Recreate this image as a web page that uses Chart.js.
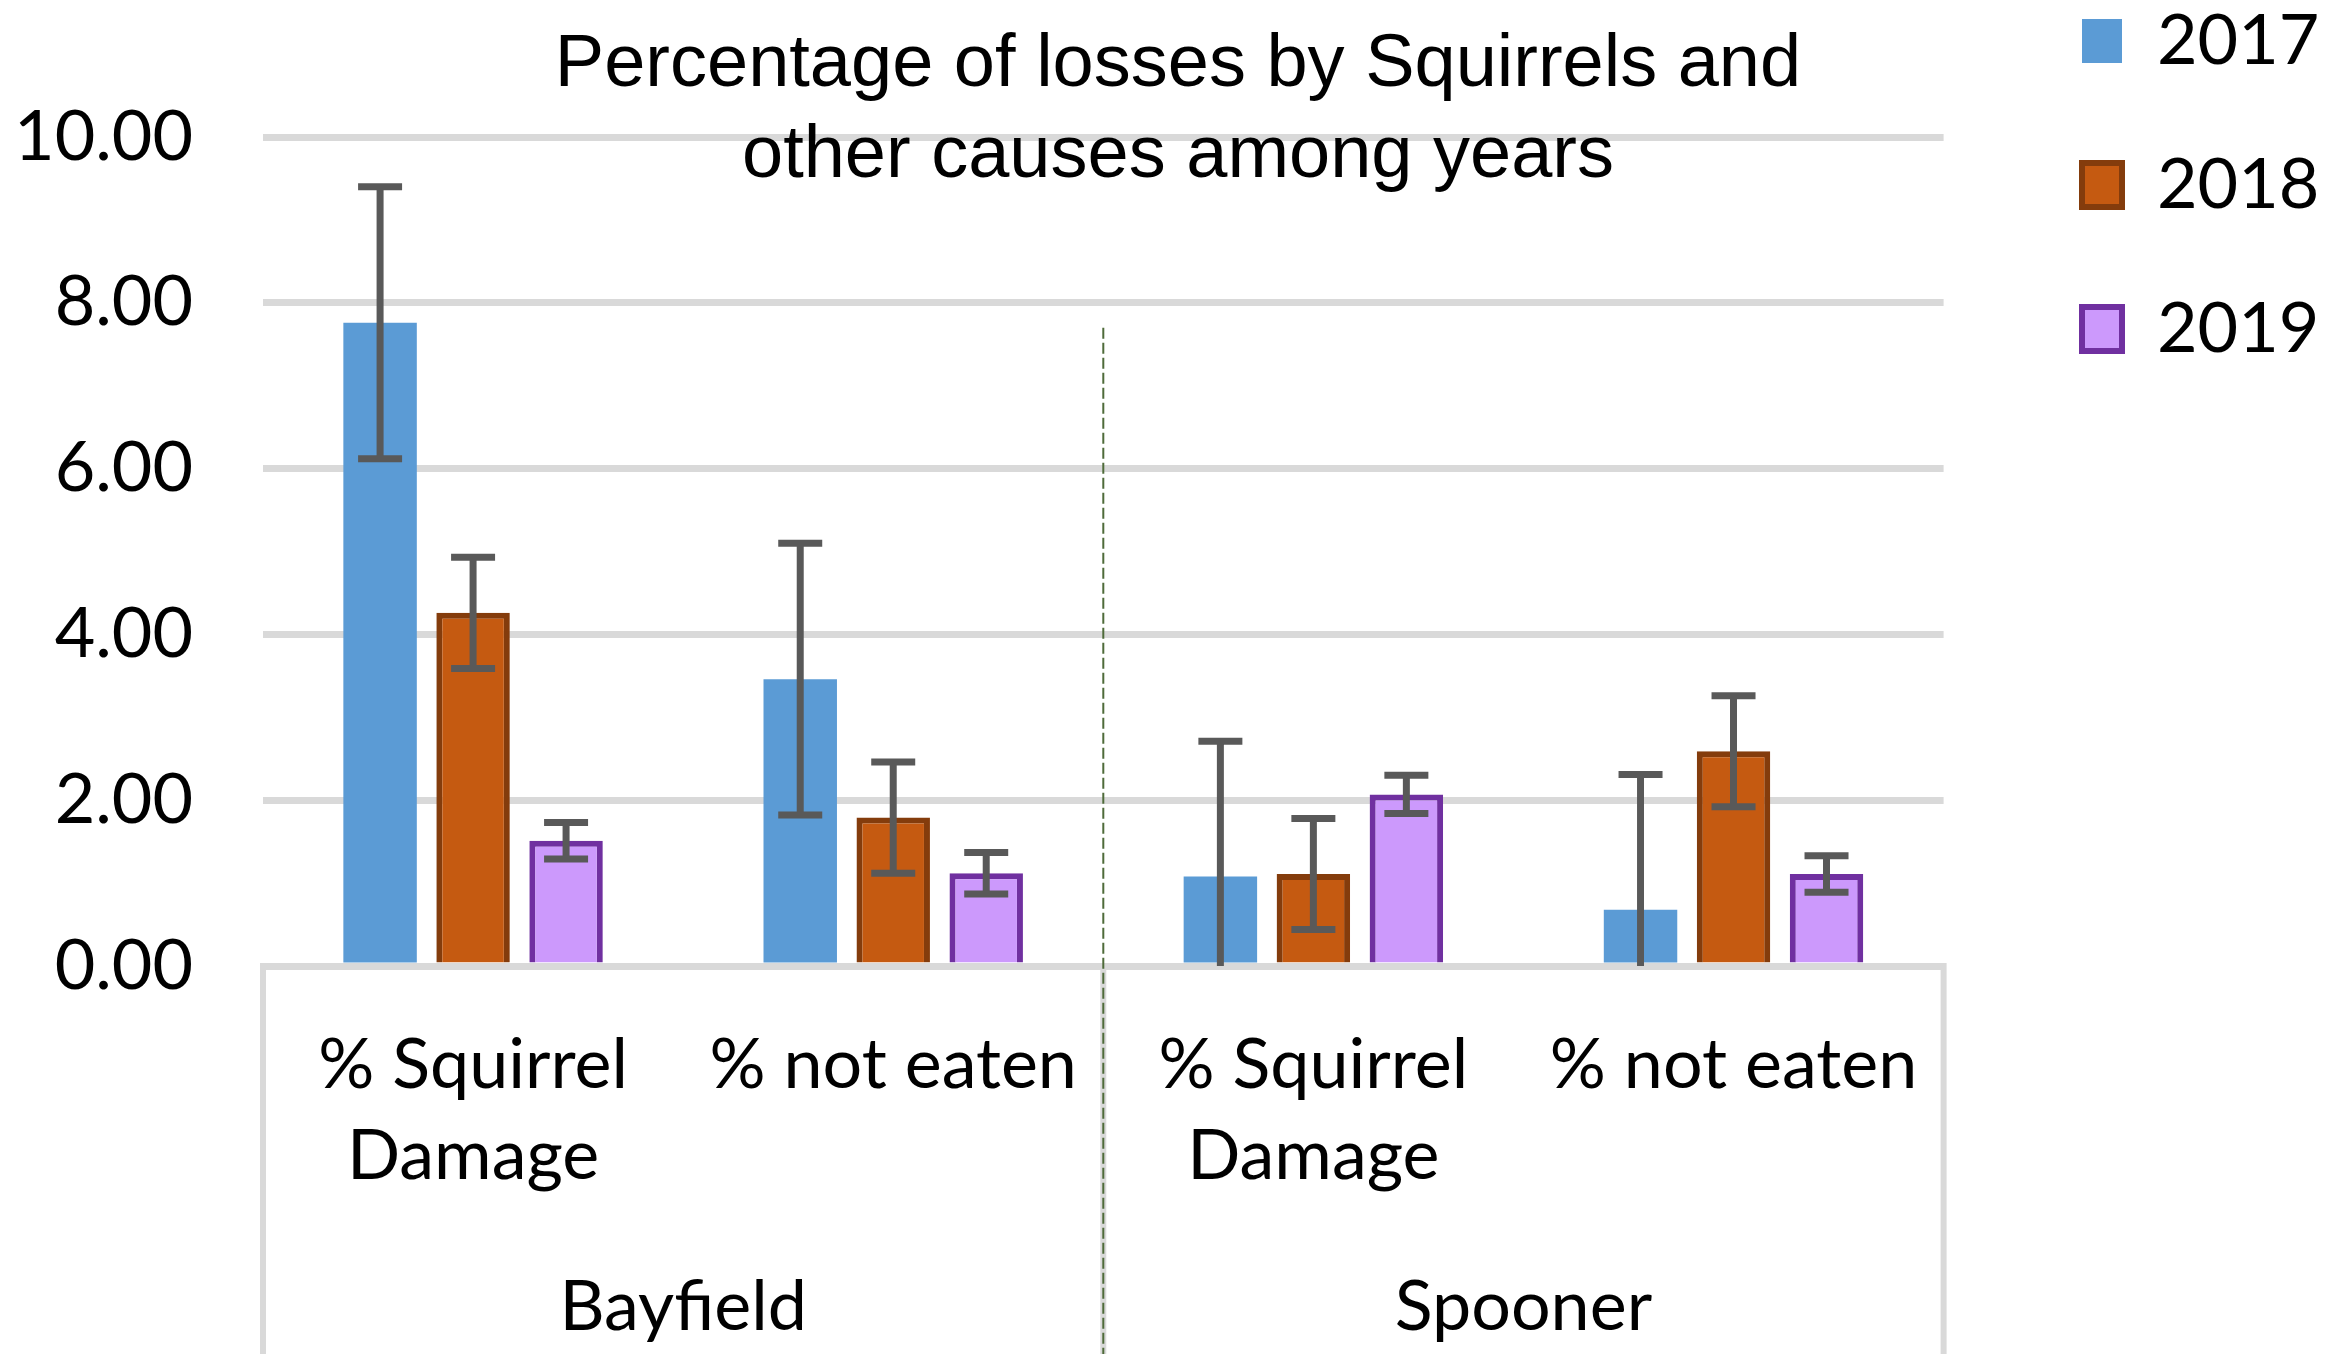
<!DOCTYPE html>
<html lang="en">
<head>
<meta charset="UTF-8">
<title>Percentage of losses by Squirrels and other causes among years</title>
<script src="https://cdn.jsdelivr.net/npm/chart.js"></script>
<style>
  html, body { margin: 0; padding: 0; background: #ffffff; }
  #wrap { width: 2331px; height: 1354px; }
</style>
</head>
<body>
<div id="wrap"><canvas id="lossChart" width="2331" height="1354"></canvas></div>
<script>
// categories (inner level) and sites (outer level) of the x axis
const categories = [['% Squirrel', 'Damage'], '% not eaten', ['% Squirrel', 'Damage'], '% not eaten'];
const sites = ['Bayfield', 'Spooner'];
const years = ['2017', '2018', '2019'];
const yTicks = [0, 2, 4, 6, 8, 10];
const titleLines = ['Percentage of losses by Squirrels and', 'other causes among years'];

// bar heights (%)
const losses2017 = [7.76, 3.46, 1.08, 0.68];
const losses2018 = [4.26, 1.79, 1.11, 2.59];
const losses2019 = [1.51, 1.12, 2.07, 1.11];

// error bar half-lengths (%)
const err2017 = [1.64, 1.64, 1.63, 1.63];
const err2018 = [0.67, 0.67, 0.67, 0.67];
const err2019 = [0.22, 0.25, 0.23, 0.22];
const errorSets = [err2017, err2018, err2019];

const axisFont = { family: 'Lato', size: 70, lineHeight: 1.3 };

// error bars drawn from each bar's own position and the y scale
const errorBars = {
    id: 'errorBars',
    afterDatasetsDraw(chart) {
        const ctx = chart.ctx;
        const y = chart.scales.y;
        const area = chart.chartArea;
        ctx.save();
        ctx.beginPath();
        ctx.rect(area.left, area.top - 10, area.right - area.left, area.bottom - area.top + 10);
        ctx.clip();
        ctx.strokeStyle = '#595959';
        ctx.lineWidth = 7;
        chart.data.datasets.forEach((ds, i) => {
            chart.getDatasetMeta(i).data.forEach((bar, j) => {
                const v = ds.data[j];
                const e = errorSets[i][j];
                const top = y.getPixelForValue(v + e);
                const low = v - e;
                const bot = y.getPixelForValue(Math.max(low, y.min));
                ctx.beginPath();
                ctx.moveTo(bar.x, top);
                ctx.lineTo(bar.x, bot);
                ctx.moveTo(bar.x - 22, top);
                ctx.lineTo(bar.x + 22, top);
                if (low >= y.min) {
                    ctx.moveTo(bar.x - 22, bot);
                    ctx.lineTo(bar.x + 22, bot);
                }
                ctx.stroke();
            });
        });
        ctx.restore();
    }
};

// axis box lines, group separator and the title laid over the plot
const decorations = {
    id: 'decorations',
    afterDraw(chart) {
        const ctx = chart.ctx;
        const area = chart.chartArea;
        const xs = chart.scales.x;
        const mid = (xs.getPixelForValue(1) + xs.getPixelForValue(2)) / 2;
        ctx.save();
        ctx.strokeStyle = '#d9d9d9';
        ctx.lineWidth = 6;
        ctx.beginPath();
        [area.left, mid, area.right].forEach(px => {
            ctx.moveTo(px, area.bottom - 3);
            ctx.lineTo(px, chart.height);
        });
        ctx.stroke();

        ctx.strokeStyle = '#4f6b3a';
        ctx.lineWidth = 2;
        ctx.setLineDash([11, 4]);
        ctx.beginPath();
        ctx.moveTo(mid, chart.scales.y.getPixelForValue(7.7));
        ctx.lineTo(mid, chart.height);
        ctx.stroke();
        ctx.setLineDash([]);

        ctx.fillStyle = '#000000';
        ctx.font = '74px "Liberation Sans", Arial, sans-serif';
        ctx.textAlign = 'center';
        ctx.textBaseline = 'alphabetic';
        ctx.fillText(titleLines[0], 1178, 86);
        ctx.fillText(titleLines[1], 1178, 177);
        ctx.restore();
    }
};

// move the right-hand legend up to the top corner
const legendPlacer = {
    id: 'legendPlacer',
    afterLayout(chart) {
        const lg = chart.legend;
        const pad = lg.options.labels.padding;
        const w = lg.width;
        lg.left = 2082 - pad;
        lg.right = lg.left + w;
        lg.top = 6 - pad;
    }
};

const chart = new Chart(document.getElementById('lossChart'), {
    type: 'bar',
    data: {
        labels: categories,
        datasets: [
            {
                label: years[0],
                data: losses2017,
                backgroundColor: '#5b9bd5',
                borderWidth: 0,
                xAxisID: 'x',
                yAxisID: 'y'
            },
            {
                label: years[1],
                data: losses2018,
                backgroundColor: '#c55a11',
                borderColor: '#843c0c',
                borderWidth: 6,
                xAxisID: 'x',
                yAxisID: 'y'
            },
            {
                label: years[2],
                data: losses2019,
                backgroundColor: '#cc99fc',
                borderColor: '#7030a0',
                borderWidth: 6,
                xAxisID: 'x',
                yAxisID: 'y'
            }
        ]
    },
    options: {
        responsive: false,
        devicePixelRatio: 1,
        animation: false,
        categoryPercentage: 0.664,
        barPercentage: 0.79,
        layout: { padding: { top: 137, right: 66, bottom: 0, left: 0 } },
        plugins: {
            title: { display: false },
            tooltip: { enabled: false },
            legend: {
                position: 'right',
                align: 'start',
                labels: {
                    color: '#000000',
                    font: { family: 'Lato', size: 70 },
                    boxWidth: 40,
                    boxHeight: 44,
                    padding: 74
                }
            }
        },
        scales: {
            x: {
                type: 'category',
                position: 'bottom',
                weight: 0,
                grid: { display: false, drawTicks: false },
                border: { display: false },
                ticks: {
                    color: '#000000',
                    font: axisFont,
                    padding: 54,
                    autoSkip: false,
                    maxRotation: 0
                },
                afterFit: s => { s.height = 260; }
            },
            x2: {
                type: 'category',
                position: 'bottom',
                weight: 1,
                labels: sites,
                offset: true,
                grid: { display: false, drawTicks: false },
                border: { display: false },
                ticks: {
                    color: '#000000',
                    font: axisFont,
                    padding: 36,
                    autoSkip: false,
                    maxRotation: 0
                },
                afterFit: s => { s.height = 128; }
            },
            y: {
                min: yTicks[0],
                max: yTicks[yTicks.length - 1],
                grid: { color: '#d9d9d9', lineWidth: 7, drawTicks: false },
                border: { display: false },
                ticks: {
                    stepSize: yTicks[1] - yTicks[0],
                    color: '#000000',
                    font: { family: 'Lato', size: 70 },
                    padding: 70,
                    callback: v => v.toFixed(2)
                },
                afterFit: s => { s.width = 263; }
            }
        }
    },
    plugins: [errorBars, decorations, legendPlacer]
});
</script>
</body>
</html>
